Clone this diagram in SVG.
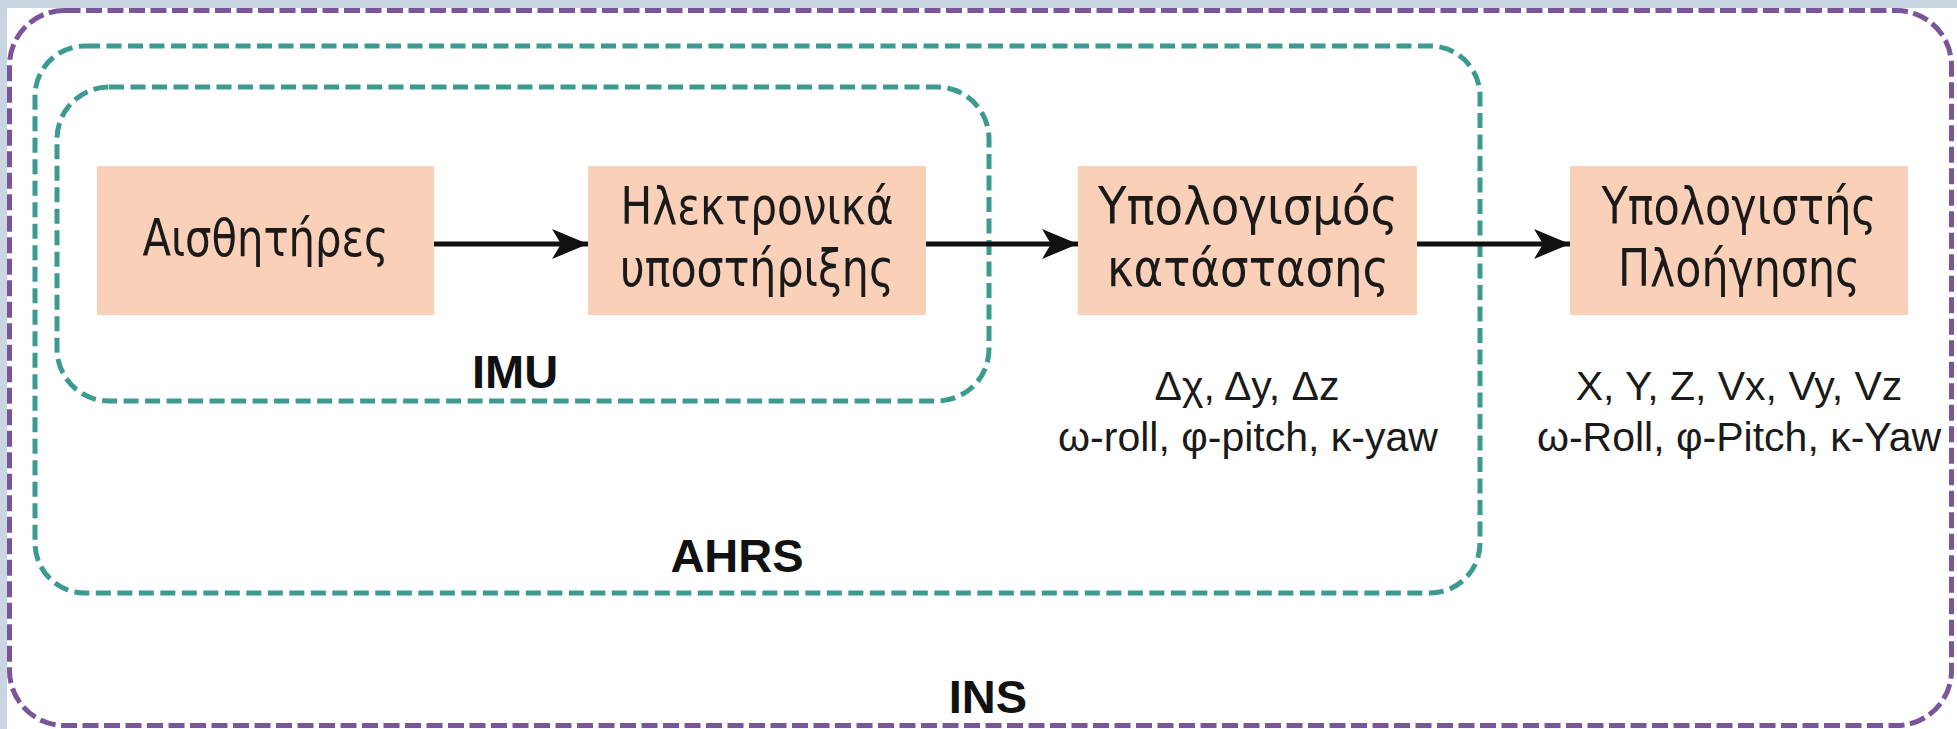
<svg xmlns="http://www.w3.org/2000/svg" width="1957" height="729" viewBox="0 0 1957 729">
<defs>
<style>
.bg{fill:#c9d5e0}
.ins{fill:none;stroke:#7b559a;stroke-width:5;stroke-dasharray:16 5.5}
.grp{fill:none;stroke:#3d9a90;stroke-width:5;stroke-dasharray:15 6.5}
.box{fill:#fad0b8}
.bt{font-family:"DejaVu Sans Condensed","DejaVu Sans",sans-serif;font-size:52px;fill:#1a1a1a;text-anchor:middle}
.lbl{font-family:"Liberation Sans",Arial,sans-serif;font-weight:bold;font-size:47px;fill:#111;text-anchor:middle}
.par{font-family:"Liberation Sans",Arial,sans-serif;font-size:41px;fill:#1a1a1a;text-anchor:middle}
.con{stroke:#111;stroke-width:5;fill:none}
</style>
<marker id="ah" markerUnits="userSpaceOnUse" markerWidth="40" markerHeight="34" refX="36" refY="15" orient="auto">
<path d="M0,0 L36,15 L0,30 L9,15 Z" fill="#111"/>
</marker>
</defs>
<rect x="0" y="0" width="1957" height="729" fill="#ffffff"/>
<rect class="bg" x="0" y="0" width="1957" height="8"/>
<rect class="bg" x="0" y="0" width="7" height="729"/>
<g id="INS">
<rect class="ins" x="9.5" y="10.5" width="1942" height="715" rx="55" ry="55"/>
<text class="lbl" x="988" y="713">INS</text>
</g>
<g id="AHRS">
<rect class="grp" x="35" y="46" width="1445" height="547" rx="50" ry="50"/>
<text class="lbl" x="737" y="572">AHRS</text>
</g>
<g id="IMU">
<rect class="grp" x="57" y="87" width="932" height="314" rx="52" ry="52"/>
<text class="lbl" x="515" y="388">IMU</text>
</g>
<g id="connectors">
<line class="con" x1="434" y1="244" x2="588" y2="244" marker-end="url(#ah)"/>
<line class="con" x1="926" y1="244" x2="1078" y2="244" marker-end="url(#ah)"/>
<line class="con" x1="1417" y1="244" x2="1570" y2="244" marker-end="url(#ah)"/>
</g>
<g id="sensors">
<rect class="box" x="97" y="166" width="337" height="149"/>
<text class="bt" x="265.5" y="256" textLength="246" lengthAdjust="spacingAndGlyphs">Αισθητήρες</text>
</g>
<g id="electronics">
<rect class="box" x="588" y="166" width="338" height="149"/>
<text class="bt"><tspan x="757" y="224" textLength="273" lengthAdjust="spacingAndGlyphs">Ηλεκτρονικά</tspan><tspan x="757" y="286" textLength="274" lengthAdjust="spacingAndGlyphs">υποστήριξης</tspan></text>
</g>
<g id="state">
<rect class="box" x="1078" y="166" width="339" height="149"/>
<text class="bt"><tspan x="1248" y="224" textLength="300" lengthAdjust="spacingAndGlyphs">Υπολογισμός</tspan><tspan x="1248" y="286" textLength="282" lengthAdjust="spacingAndGlyphs">κατάστασης</tspan></text>
<text class="par"><tspan x="1247" y="400">Δχ, Δy, Δz</tspan><tspan x="1248" y="451">ω-roll, φ-pitch, κ-yaw</tspan></text>
</g>
<g id="navcomputer">
<rect class="box" x="1570" y="166" width="338" height="149"/>
<text class="bt"><tspan x="1739" y="224" textLength="275" lengthAdjust="spacingAndGlyphs">Υπολογιστής</tspan><tspan x="1739" y="286" textLength="242" lengthAdjust="spacingAndGlyphs">Πλοήγησης</tspan></text>
<text class="par"><tspan x="1739" y="400">X, Y, Z, Vx, Vy, Vz</tspan><tspan x="1739" y="451">ω-Roll, φ-Pitch, κ-Yaw</tspan></text>
</g>
</svg>
